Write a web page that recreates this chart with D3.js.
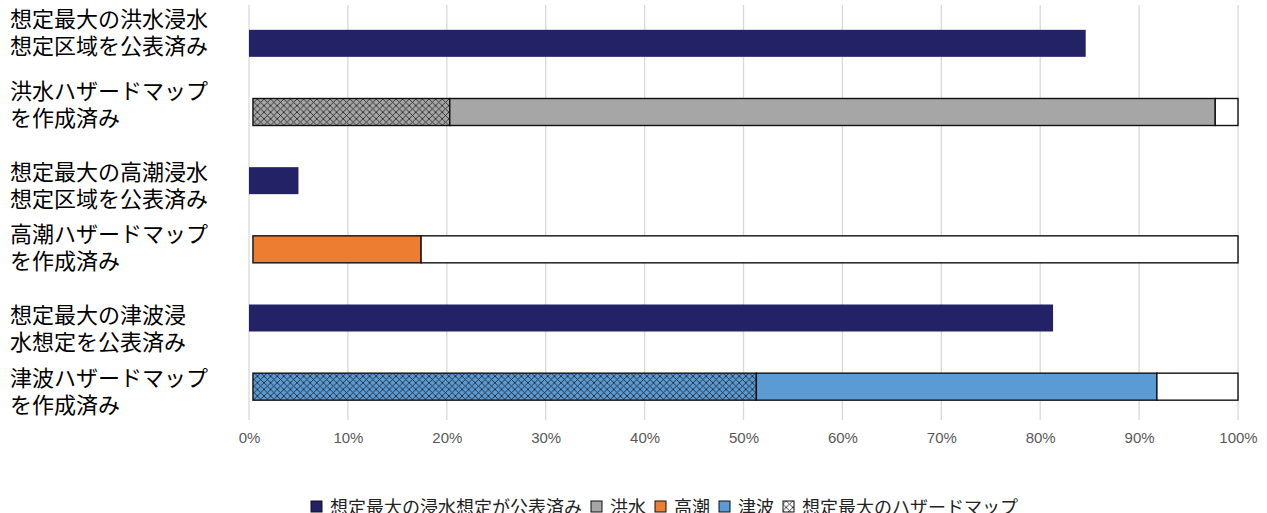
<!DOCTYPE html>
<html>
<head>
<meta charset="utf-8">
<script src="https://cdn.jsdelivr.net/npm/d3@7"></script>
<style>
  body { margin: 0; background: #fff; }
  svg { display: block; }
</style>
</head>
<body>
<svg id="chart"></svg>
<script>
// rows of the chart, top to bottom
const categories = [
  ['想定最大の洪水浸水', '想定区域を公表済み'],
  ['洪水ハザードマップ', 'を作成済み'],
  ['想定最大の高潮浸水', '想定区域を公表済み'],
  ['高潮ハザードマップ', 'を作成済み'],
  ['想定最大の津波浸', '水想定を公表済み'],
  ['津波ハザードマップ', 'を作成済み']
];

// navy bars: published max inundation area (%)
const publishedRows = [0, 2, 4];
const publishedValues = [84.6, 5.0, 81.3];

// hazard map bars (%)
const mapRows = [1, 3, 5];
const mapHazards = ['洪水', '高潮', '津波'];
const mapStart = 0.4;
const mapMaxValues = [20.3, 0, 51.3];   // hatched part: maps based on max scenario
const mapTotalValues = [97.7, 17.4, 91.8];

const xTicks = [0, 10, 20, 30, 40, 50, 60, 70, 80, 90, 100];
const legendItems = ['想定最大の浸水想定が公表済み', '洪水', '高潮', '津波', '想定最大のハザードマップ'];

// styles
const width = 1267, height = 513;
const navy = '#232266';
const hazardColor = { '洪水': '#a6a6a6', '高潮': '#ed7d31', '津波': '#5b9bd5' };
const jpFont = '"Noto Sans CJK JP", "Noto Sans", sans-serif';
const numFont = '"Liberation Sans", Arial, sans-serif';
const labelShift = [-10, -7, 5, -1, 11, 5];

const svg = d3.select('#chart').attr('width', width).attr('height', height);

const x = d3.scaleLinear().domain([0, 100]).range([249, 1238]);
const y = d3.scaleBand().domain(d3.range(categories.length)).range([9, 421]).paddingInner(0.6).paddingOuter(0.3);
const barH = 27;
const yc = (i) => y(i) + y.bandwidth() / 2;

// hatch pattern
const defs = svg.append('defs');
function hatch(id, fill) {
  const p = 6.6;
  const pat = defs.append('pattern')
    .attr('id', id)
    .attr('patternUnits', 'userSpaceOnUse')
    .attr('width', p).attr('height', p);
  pat.append('rect').attr('width', p).attr('height', p).attr('fill', fill);
  pat.append('path')
    .attr('d', `M0,0 L${p},${p} M${p},0 L0,${p}`)
    .attr('stroke', '#1a1a1a').attr('stroke-width', 0.8).attr('fill', 'none');
}
mapHazards.forEach((h, i) => hatch('hatch' + i, hazardColor[h]));
hatch('hatchWhite', '#fff');

// gridlines
svg.append('g')
  .selectAll('line')
  .data(xTicks)
  .enter()
  .append('line')
  .attr('x1', (d) => x(d)).attr('x2', (d) => x(d))
  .attr('y1', 5).attr('y2', 420)
  .attr('stroke', '#d9d9d9').attr('stroke-width', 1.3);

// x axis tick labels
const xAxis = d3.axisBottom(x).tickValues(xTicks).tickFormat((d) => d + '%').tickSize(0).tickPadding(0);
const ax = svg.append('g').attr('transform', 'translate(0,432.5)').call(xAxis);
ax.select('.domain').remove();
ax.selectAll('text')
  .style('font-family', numFont)
  .style('font-size', '15px')
  .attr('fill', '#595959');

// navy bars
svg.append('g')
  .selectAll('rect')
  .data(publishedValues)
  .enter()
  .append('rect')
  .attr('x', x(0))
  .attr('y', (d, i) => yc(publishedRows[i]) - barH / 2)
  .attr('width', (d) => x(d) - x(0))
  .attr('height', barH)
  .attr('fill', navy);

// hazard map stacked bars
const segs = [];
mapRows.forEach((r, i) => {
  segs.push({ r, x0: mapStart, x1: mapMaxValues[i], fill: `url(#hatch${i})` });
  segs.push({ r, x0: Math.max(mapStart, mapMaxValues[i]), x1: mapTotalValues[i], fill: hazardColor[mapHazards[i]] });
  segs.push({ r, x0: mapTotalValues[i], x1: 100, fill: '#fff' });
});
svg.append('g')
  .selectAll('rect')
  .data(segs.filter((s) => s.x1 > s.x0))
  .enter()
  .append('rect')
  .attr('x', (d) => x(d.x0))
  .attr('y', (d) => yc(d.r) - barH / 2)
  .attr('width', (d) => x(d.x1) - x(d.x0))
  .attr('height', barH)
  .attr('fill', (d) => d.fill)
  .attr('stroke', '#111')
  .attr('stroke-width', 1.4);

// category labels, one text per line
const lines = [];
categories.forEach((c, i) => c.forEach((t, j) => lines.push({ t, i, j })));
svg.append('g')
  .selectAll('text')
  .data(lines)
  .enter()
  .append('text')
  .attr('x', 10)
  .attr('y', (d) => yc(d.i) + labelShift[d.i] - 6 + d.j * 27)
  .style('font-family', jpFont)
  .style('font-size', '22px')
  .attr('fill', '#000')
  .text((d) => d.t);

// legend
const legend = svg.append('g').attr('transform', 'translate(311,514)');
const legendFills = [navy, hazardColor['洪水'], hazardColor['高潮'], hazardColor['津波'], 'url(#hatchWhite)'];
let lx = 0;
legendItems.forEach((t, i) => {
  legend.append('rect')
    .attr('x', lx).attr('y', -13)
    .attr('width', 11).attr('height', 11)
    .attr('fill', legendFills[i])
    .attr('stroke', '#111').attr('stroke-width', 1);
  const tx = legend.append('text')
    .attr('x', lx + 19).attr('y', 0)
    .style('font-family', jpFont)
    .style('font-size', '18px')
    .attr('fill', '#222')
    .text(t);
  lx += 19 + tx.node().getComputedTextLength() + 9;
});
</script>
</body>
</html>
